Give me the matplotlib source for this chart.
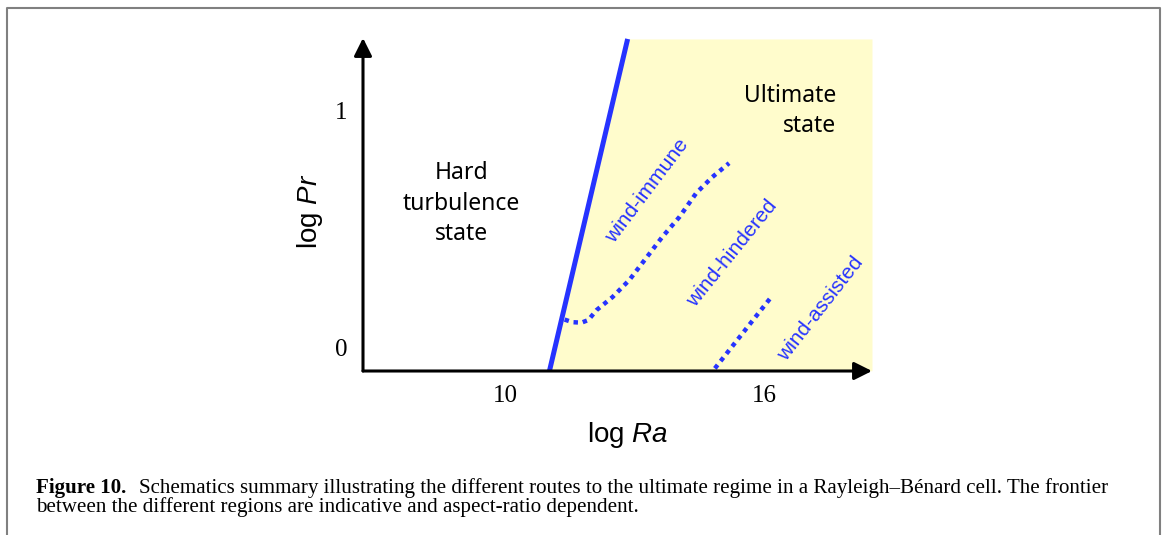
import matplotlib
matplotlib.use("Agg")
import matplotlib.pyplot as plt
from matplotlib.lines import Line2D

# ---- data (schematic) ----
frontier_ra = [11.03, 12.84]
frontier_pr = [-0.10, 1.30]

immune_ra = [11.38, 11.56, 11.77, 11.93, 12.12, 12.49, 12.88, 13.27, 13.64, 14.04, 14.43, 14.80, 15.19]
immune_pr = [0.116, 0.105, 0.103, 0.114, 0.156, 0.211, 0.283, 0.376, 0.464, 0.549, 0.650, 0.717, 0.776]

assisted_ra = [14.86, 16.17]
assisted_pr = [-0.09, 0.212]

xtick_vals = [10, 16]
xtick_labels = ["10", "16"]
ytick_vals = [0, 1]
ytick_labels = ["0", "1"]

xlim = (6.71, 18.50)
ylim = (-0.101, 1.304)

W, H = 1165, 535
plt.rcParams['mathtext.fontset'] = 'custom'
plt.rcParams['mathtext.rm'] = 'Liberation Sans'
plt.rcParams['mathtext.it'] = 'Liberation Sans:italic'

fig = plt.figure(figsize=(W / 100, H / 100), dpi=100)
fig.patch.set_facecolor('white')

def fx(px):
    return px / W

def fy(py):
    return 1 - py / H

ax = fig.add_axes([fx(363), fy(371), fx(872) - fx(363), fy(38) - fy(371)])
ax.set_xlim(*xlim)
ax.set_ylim(*ylim)
for s in ax.spines.values():
    s.set_visible(False)
ax.patch.set_alpha(0)

blue = '#2633FF'
yellow = '#FFFCCC'

# ultimate-state region
ax.fill_betweenx(frontier_pr, frontier_ra, [xlim[1], xlim[1]], color=yellow, lw=0, zorder=1)
# frontier
ax.plot(frontier_ra, frontier_pr, color=blue, lw=3.6, solid_capstyle='butt', zorder=3, clip_on=False)
# dotted boundaries
ax.plot(immune_ra, immune_pr, color=blue, lw=3.2, linestyle=(0, (1, 1.1)), dash_capstyle='butt', zorder=3)
ax.plot(assisted_ra, assisted_pr, color=blue, lw=3.2, linestyle=(0, (1, 1.1)), dash_capstyle='butt', zorder=3)

# axes arrows
arrow = dict(arrowstyle='-|>,head_length=0.6,head_width=0.3', lw=2.2, color='black',
             mutation_scale=18, shrinkA=0, shrinkB=0)
ax.annotate('', xy=(xlim[1], ylim[0]), xytext=(xlim[0], ylim[0]), arrowprops=arrow,
            annotation_clip=False, zorder=5)
ax.annotate('', xy=(xlim[0], ylim[1]), xytext=(xlim[0], ylim[0]), arrowprops=arrow,
            annotation_clip=False, zorder=5)

ax.set_xticks(xtick_vals)
ax.set_xticklabels(xtick_labels, family='Liberation Serif', fontsize=18)
ax.set_yticks(ytick_vals)
ax.set_yticklabels(ytick_labels, family='Liberation Serif', fontsize=18)
ax.tick_params(axis='x', length=0, pad=10)
ax.tick_params(axis='y', length=0, pad=11)

# region labels
ax.text(8.99, 0.605, "Hard\nturbulence\nstate", family='Noto Sans', fontsize=16.5,
        ha='center', va='center', linespacing=1.36, color='black', zorder=4)
ax.text(17.67, 0.995, "Ultimate\nstate", family='Noto Sans', fontsize=16.5,
        ha='right', va='center', linespacing=1.36, multialignment='right', color='black', zorder=4)

ax.text(13.29, 0.66, "wind-immune", family='Liberation Sans', fontsize=15, color=blue,
        rotation=53, rotation_mode='anchor', ha='center', va='center', zorder=4)
ax.text(15.26, 0.395, "wind-hindered", family='Liberation Sans', fontsize=15, color=blue,
        rotation=51, rotation_mode='anchor', ha='center', va='center', zorder=4)
ax.text(17.30, 0.163, "wind-assisted", family='Liberation Sans', fontsize=15, color=blue,
        rotation=52, rotation_mode='anchor', ha='center', va='center', zorder=4)

# axis labels
fig.text(fx(628), fy(435), "log $Ra$", family='Liberation Sans', fontsize=20,
         ha='center', va='center')
fig.text(fx(310), fy(211), "log $Pr$", family='Liberation Sans', fontsize=20,
         ha='center', va='center', rotation=90)

# frame
fig.add_artist(Line2D([fx(7), fx(7), fx(1160), fx(1160)], [0, fy(8), fy(8), 0],
                      transform=fig.transFigure, color='#808080', lw=1.5))

# caption, fitted to the original width
cap_bold = "Figure 10."
cap_rest1 = "Schematics summary illustrating the different routes to the ultimate regime in a Rayleigh\u2013B\u00e9nard cell. The frontier"
cap_line2 = "between the different regions are indicative and aspect-ratio dependent."
x0, x1 = 36, 1107
r = fig.canvas.get_renderer()
size = 12.0
for _ in range(3):
    tb = fig.text(0, 0, cap_bold, family='Liberation Serif', weight='bold', fontsize=size)
    tr = fig.text(0, 0, cap_rest1, family='Liberation Serif', fontsize=size)
    wb = tb.get_window_extent(r).width
    wr = tr.get_window_extent(r).width
    tb.remove(); tr.remove()
    gap = size * 100 / 72 * 0.6
    size = size * (x1 - x0) / (wb + gap + wr)
tb = fig.text(fx(x0), fy(493), cap_bold, family='Liberation Serif', weight='bold', fontsize=size, va='baseline')
wb = tb.get_window_extent(r).width
gap = size * 100 / 72 * 0.6
fig.text(fx(x0 + wb + gap), fy(493), cap_rest1, family='Liberation Serif', fontsize=size, va='baseline')
fig.text(fx(x0), fy(512), cap_line2, family='Liberation Serif', fontsize=size, va='baseline')

fig.savefig("out.png", dpi=100)
